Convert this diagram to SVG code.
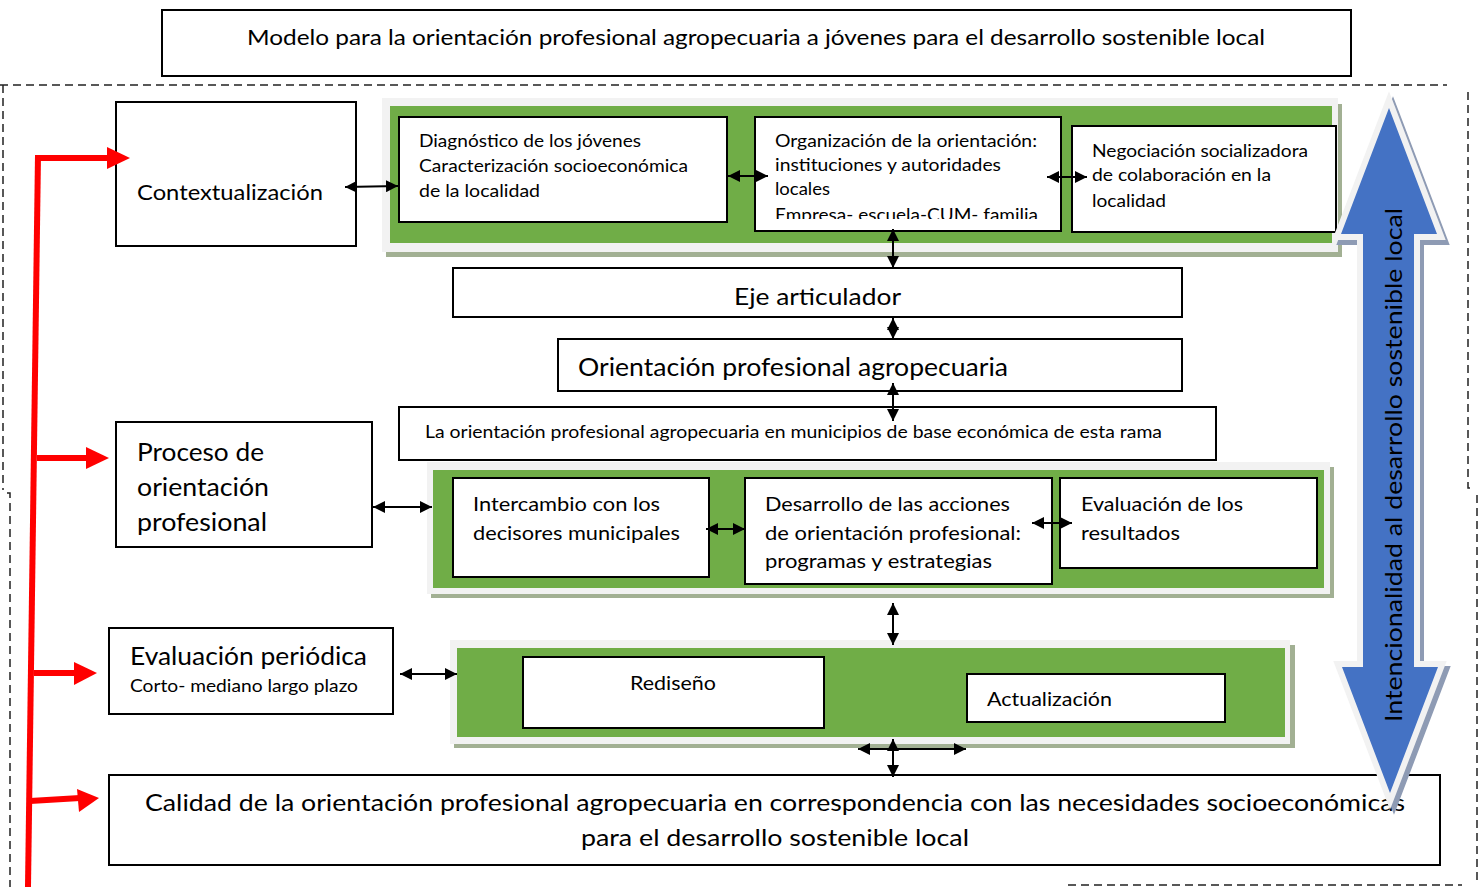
<svg xmlns="http://www.w3.org/2000/svg" width="1482" height="887" viewBox="0 0 1482 887">
<defs>
<style>
.box{fill:#fff;stroke:#000;stroke-width:2}
.t{font-family:Lato,"Open Sans","Liberation Sans",sans-serif;fill:#000}
.con{stroke:#000;stroke-width:2;fill:none;marker-start:url(#ah);marker-end:url(#ah)}
.red{stroke:#ff0000;stroke-width:6;fill:none}
.redh{fill:#ff0000}
.frame{fill:#f2f2f2}
.shadow{fill:#a2b093}
.green{fill:#70ad47}
.dash{fill:none;stroke:#222;stroke-width:1.5;stroke-dasharray:8 5}
</style>
<marker id="ah" viewBox="0 0 10 10" refX="10" refY="5" markerWidth="6" markerHeight="6" orient="auto-start-reverse" markerUnits="strokeWidth">
<path d="M0,0 L10,5 L0,10 Z" fill="#000"/>
</marker>
<clipPath id="clipD2"><rect x="756" y="118" width="304" height="101"/></clipPath>
</defs>

<rect width="1482" height="887" fill="#fff"/>

<g id="outer-border">
<path class="dash" d="M0,85 H1447"/>
<path class="dash" d="M3,85 V490" stroke="#888"/>
<path class="dash" d="M7,493 H10 V887"/>
<path class="dash" d="M1468,92 V488 H1474"/>
<path class="dash" d="M1477,495 V882"/>
<path class="dash" d="M1068,885 H1462"/>
</g>

<g id="title">
<rect class="box" x="162" y="10" width="1189" height="66"/>
<text class="t" x="247" y="45" font-size="22" textLength="1018" lengthAdjust="spacingAndGlyphs">Modelo para la orientación profesional agropecuaria a jóvenes para el desarrollo sostenible local</text>
</g>

<g id="panel1">
<rect class="shadow" x="386" y="104" width="956" height="153"/>
<rect class="frame" x="382" y="98" width="956" height="154"/>
<rect class="green" x="390" y="106" width="942" height="137"/>
</g>

<g id="panel2">
<rect class="shadow" x="431" y="467" width="903" height="131"/>
<rect class="frame" x="427" y="462" width="903" height="132"/>
<rect class="green" x="433" y="470" width="891" height="118"/>
</g>

<g id="panel3">
<rect class="shadow" x="454" y="645" width="841" height="103"/>
<rect class="frame" x="450" y="640" width="840" height="104"/>
<rect class="green" x="457" y="648" width="828" height="89"/>
</g>

<g id="contextualizacion">
<rect class="box" x="116" y="102" width="240" height="144"/>
<text class="t" x="137" y="200" font-size="22" textLength="186" lengthAdjust="spacingAndGlyphs">Contextualización</text>
</g>

<g id="diagnostico">
<rect class="box" x="399" y="117" width="328" height="105"/>
<text class="t" x="419" y="147" font-size="17" textLength="222" lengthAdjust="spacingAndGlyphs">Diagnóstico de los jóvenes</text>
<text class="t" x="419" y="172" font-size="17" textLength="269" lengthAdjust="spacingAndGlyphs">Caracterización socioeconómica</text>
<text class="t" x="419" y="197" font-size="17" textLength="121" lengthAdjust="spacingAndGlyphs">de la localidad</text>
</g>

<g id="organizacion">
<rect class="box" x="755" y="117" width="306" height="114"/>
<g clip-path="url(#clipD2)">
<text class="t" x="775" y="147" font-size="17" textLength="262" lengthAdjust="spacingAndGlyphs">Organización de la orientación:</text>
<text class="t" x="775" y="171" font-size="17" textLength="226" lengthAdjust="spacingAndGlyphs">instituciones y autoridades</text>
<text class="t" x="775" y="195" font-size="17" textLength="55" lengthAdjust="spacingAndGlyphs">locales</text>
<text class="t" x="775" y="221" font-size="17" textLength="263" lengthAdjust="spacingAndGlyphs">Empresa- escuela-CUM- familia</text>
</g>
</g>

<g id="negociacion">
<rect class="box" x="1072" y="126" width="264" height="106"/>
<text class="t" x="1092" y="157" font-size="17" textLength="216" lengthAdjust="spacingAndGlyphs">Negociación socializadora</text>
<text class="t" x="1092" y="181" font-size="17" textLength="179" lengthAdjust="spacingAndGlyphs">de colaboración en la</text>
<text class="t" x="1092" y="207" font-size="17" textLength="74" lengthAdjust="spacingAndGlyphs">localidad</text>
</g>

<g id="eje">
<rect class="box" x="453" y="268" width="729" height="49"/>
<text class="t" x="734" y="305" font-size="24" textLength="167" lengthAdjust="spacingAndGlyphs">Eje articulador</text>
</g>

<g id="orientacion">
<rect class="box" x="558" y="339" width="624" height="52"/>
<text class="t" x="578" y="376" font-size="25" textLength="430" lengthAdjust="spacingAndGlyphs">Orientación profesional agropecuaria</text>
</g>

<g id="municipios">
<rect class="box" x="399" y="407" width="817" height="53"/>
<text class="t" x="425" y="438" font-size="17" textLength="737" lengthAdjust="spacingAndGlyphs">La orientación profesional agropecuaria en municipios de base económica de esta rama</text>
</g>

<g id="proceso">
<rect class="box" x="116" y="422" width="256" height="125"/>
<text class="t" x="137" y="461" font-size="25" textLength="127" lengthAdjust="spacingAndGlyphs">Proceso de</text>
<text class="t" x="137" y="496" font-size="25" textLength="132" lengthAdjust="spacingAndGlyphs">orientación</text>
<text class="t" x="137" y="531" font-size="25" textLength="130" lengthAdjust="spacingAndGlyphs">profesional</text>
</g>

<g id="intercambio">
<rect class="box" x="453" y="478" width="256" height="99"/>
<text class="t" x="473" y="511" font-size="20" textLength="187" lengthAdjust="spacingAndGlyphs">Intercambio con los</text>
<text class="t" x="473" y="540" font-size="20" textLength="207" lengthAdjust="spacingAndGlyphs">decisores municipales</text>
</g>

<g id="desarrollo">
<rect class="box" x="745" y="478" width="307" height="106"/>
<text class="t" x="765" y="511" font-size="20" textLength="245" lengthAdjust="spacingAndGlyphs">Desarrollo de las acciones</text>
<text class="t" x="765" y="540" font-size="20" textLength="256" lengthAdjust="spacingAndGlyphs">de orientación profesional:</text>
<text class="t" x="765" y="568" font-size="20" textLength="227" lengthAdjust="spacingAndGlyphs">programas y estrategias</text>
</g>

<g id="evaluacion-resultados">
<rect class="box" x="1060" y="478" width="257" height="90"/>
<text class="t" x="1081" y="511" font-size="20" textLength="162" lengthAdjust="spacingAndGlyphs">Evaluación de los</text>
<text class="t" x="1081" y="540" font-size="20" textLength="99" lengthAdjust="spacingAndGlyphs">resultados</text>
</g>

<g id="evaluacion-periodica">
<rect class="box" x="109" y="628" width="284" height="86"/>
<text class="t" x="130" y="665" font-size="25" textLength="237" lengthAdjust="spacingAndGlyphs">Evaluación periódica</text>
<text class="t" x="130" y="692" font-size="17" textLength="228" lengthAdjust="spacingAndGlyphs">Corto- mediano largo plazo</text>
</g>

<g id="rediseno">
<rect class="box" x="523" y="657" width="301" height="71"/>
<text class="t" x="630" y="690" font-size="19" textLength="86" lengthAdjust="spacingAndGlyphs">Rediseño</text>
</g>

<g id="actualizacion">
<rect class="box" x="967" y="674" width="258" height="48"/>
<text class="t" x="987" y="706" font-size="19" textLength="125" lengthAdjust="spacingAndGlyphs">Actualización</text>
</g>

<g id="calidad">
<rect class="box" x="109" y="775" width="1331" height="90"/>
<text class="t" x="145" y="811" font-size="24" textLength="1260" lengthAdjust="spacingAndGlyphs">Calidad de la orientación profesional agropecuaria en correspondencia con las necesidades socioeconómicas</text>
<text class="t" x="581" y="846" font-size="24" textLength="388" lengthAdjust="spacingAndGlyphs">para el desarrollo sostenible local</text>
</g>

<g id="intencionalidad">
<polygon points="1389,108 1437,234 1414,234 1414,667 1438,667 1390,793 1342,667 1363,667 1363,234 1341,234" fill="#8e9bb4" stroke="#8e9bb4" stroke-width="12" stroke-linejoin="miter" transform="translate(4,5)"/>
<polygon points="1389,108 1437,234 1414,234 1414,667 1438,667 1390,793 1342,667 1363,667 1363,234 1341,234" fill="#f2f2f2" stroke="#f2f2f2" stroke-width="12" stroke-linejoin="miter"/>
<polygon points="1389,108 1437,234 1414,234 1414,667 1438,667 1390,793 1342,667 1363,667 1363,234 1341,234" fill="#4472c4"/>
<text class="t" transform="translate(1402,722) rotate(-90)" x="0" y="0" font-size="24" textLength="514" lengthAdjust="spacingAndGlyphs">Intencionalidad al desarrollo sostenible local</text>
</g>

<g id="connectors">
<path class="con" d="M345,187 L398,186"/>
<path class="con" d="M728,176 L768,176"/>
<path class="con" d="M1047,177 L1087,177"/>
<path class="con" d="M893,229 L893,268"/>
<path class="con" d="M893,318 L893,339"/>
<path class="con" d="M893,383 L893,421"/>
<path class="con" d="M373,507 L432,507"/>
<path class="con" d="M706,529 L745,529"/>
<path class="con" d="M1032,523 L1072,523"/>
<path class="con" d="M893,603 L893,645"/>
<path class="con" d="M400,674 L457,674"/>
<path class="con" d="M858,749 L966,749"/>
<path class="con" d="M893,739 L893,777"/>

<g id="red-arrows">
<path class="red" d="M38,155 L28,887"/>
<path class="red" d="M35,158 L109,158"/>
<polygon class="redh" points="107,147 130,158 107,169"/>
<path class="red" d="M37,458 L88,458"/>
<polygon class="redh" points="86,447 109,458 86,469"/>
<path class="red" d="M34,673 L76,673"/>
<polygon class="redh" points="74,662 97,673 74,685"/>
<path class="red" d="M30,801 L80,798"/>
<polygon class="redh" points="77,789 99,798 79,812"/>
</g>
</g>
</svg>
